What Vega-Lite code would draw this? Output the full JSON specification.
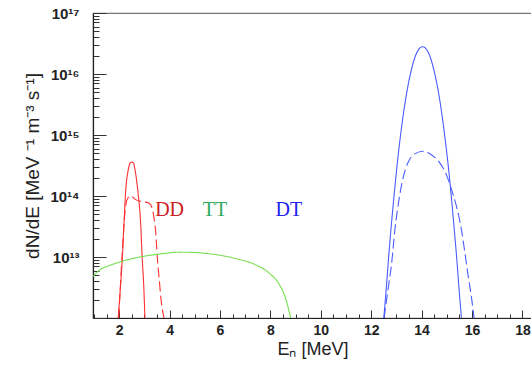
{
  "$schema": "https://vega.github.io/schema/vega-lite/v6.json",
  "width": 439,
  "height": 305,
  "autosize": "none",
  "padding": {"left": 93, "top": 13, "right": 0, "bottom": 48},
  "background": "white",
  "config": {
    "view": {"stroke": "#777", "strokeWidth": 1.2},
    "axis": {"grid": false, "labelFont": "Liberation Sans", "titleFont": "Liberation Sans", "labelColor": "#222", "titleColor": "#222", "domainColor": "#222", "tickColor": "#333"}
  },
  "resolve": {"scale": {"x": "independent", "y": "independent", "color": "independent"}, "axis": {"x": "independent", "y": "independent"}},
  "layer": [
    {
      "data": {"values": [
        {"r": "DD", "s": "solid", "x": 1.96, "y": 1.0e12},
        {"r": "DD", "s": "solid", "x": 2.03, "y": 2.5e12},
        {"r": "DD", "s": "solid", "x": 2.12, "y": 8.9e12},
        {"r": "DD", "s": "solid", "x": 2.19, "y": 3.6e13},
        {"r": "DD", "s": "solid", "x": 2.25, "y": 1.1e14},
        {"r": "DD", "s": "solid", "x": 2.36, "y": 2.7e14},
        {"r": "DD", "s": "solid", "x": 2.44, "y": 3.5e14},
        {"r": "DD", "s": "solid", "x": 2.50, "y": 3.6e14},
        {"r": "DD", "s": "solid", "x": 2.56, "y": 3.5e14},
        {"r": "DD", "s": "solid", "x": 2.64, "y": 2.5e14},
        {"r": "DD", "s": "solid", "x": 2.75, "y": 1.1e14},
        {"r": "DD", "s": "solid", "x": 2.85, "y": 3.6e13},
        {"r": "DD", "s": "solid", "x": 2.91, "y": 1.0e13},
        {"r": "DD", "s": "solid", "x": 2.98, "y": 2.9e12},
        {"r": "DD", "s": "solid", "x": 3.02, "y": 1.0e12},
        {"r": "DD", "s": "dashed", "x": 1.98, "y": 1.0e12},
        {"r": "DD", "s": "dashed", "x": 2.05, "y": 3.5e12},
        {"r": "DD", "s": "dashed", "x": 2.14, "y": 1.6e13},
        {"r": "DD", "s": "dashed", "x": 2.22, "y": 5.0e13},
        {"r": "DD", "s": "dashed", "x": 2.30, "y": 8.5e13},
        {"r": "DD", "s": "dashed", "x": 2.40, "y": 9.8e13},
        {"r": "DD", "s": "dashed", "x": 2.47, "y": 1.0e14},
        {"r": "DD", "s": "dashed", "x": 2.62, "y": 8.9e13},
        {"r": "DD", "s": "dashed", "x": 2.82, "y": 8.2e13},
        {"r": "DD", "s": "dashed", "x": 3.02, "y": 8.0e13},
        {"r": "DD", "s": "dashed", "x": 3.19, "y": 7.6e13},
        {"r": "DD", "s": "dashed", "x": 3.31, "y": 6.3e13},
        {"r": "DD", "s": "dashed", "x": 3.39, "y": 4.1e13},
        {"r": "DD", "s": "dashed", "x": 3.45, "y": 2.5e13},
        {"r": "DD", "s": "dashed", "x": 3.51, "y": 1.0e13},
        {"r": "DD", "s": "dashed", "x": 3.59, "y": 4.2e12},
        {"r": "DD", "s": "dashed", "x": 3.66, "y": 2.0e12},
        {"r": "DD", "s": "dashed", "x": 3.78, "y": 1.0e12},
        {"r": "TT", "s": "solid", "x": 0.96, "y": 4.8e12},
        {"r": "TT", "s": "solid", "x": 1.24, "y": 6.2e12},
        {"r": "TT", "s": "solid", "x": 1.60, "y": 7.2e12},
        {"r": "TT", "s": "solid", "x": 2.03, "y": 8.3e12},
        {"r": "TT", "s": "solid", "x": 2.82, "y": 1.0e13},
        {"r": "TT", "s": "solid", "x": 3.61, "y": 1.12e13},
        {"r": "TT", "s": "solid", "x": 4.40, "y": 1.2e13},
        {"r": "TT", "s": "solid", "x": 5.19, "y": 1.17e13},
        {"r": "TT", "s": "solid", "x": 5.98, "y": 1.07e13},
        {"r": "TT", "s": "solid", "x": 6.77, "y": 9.1e12},
        {"r": "TT", "s": "solid", "x": 7.43, "y": 7.4e12},
        {"r": "TT", "s": "solid", "x": 7.96, "y": 5.4e12},
        {"r": "TT", "s": "solid", "x": 8.36, "y": 3.5e12},
        {"r": "TT", "s": "solid", "x": 8.62, "y": 2.0e12},
        {"r": "TT", "s": "solid", "x": 8.72, "y": 1.4e12},
        {"r": "TT", "s": "solid", "x": 8.80, "y": 1.0e12},
        {"r": "DT", "s": "solid", "x": 12.50, "y": 1.0e12},
        {"r": "DT", "s": "solid", "x": 12.60, "y": 3.2e12},
        {"r": "DT", "s": "solid", "x": 12.70, "y": 1.1e13},
        {"r": "DT", "s": "solid", "x": 12.80, "y": 3.4e13},
        {"r": "DT", "s": "solid", "x": 12.90, "y": 9.5e13},
        {"r": "DT", "s": "solid", "x": 13.00, "y": 2.5e14},
        {"r": "DT", "s": "solid", "x": 13.20, "y": 1.3e15},
        {"r": "DT", "s": "solid", "x": 13.40, "y": 4.7e15},
        {"r": "DT", "s": "solid", "x": 13.60, "y": 1.2e16},
        {"r": "DT", "s": "solid", "x": 13.80, "y": 2.2e16},
        {"r": "DT", "s": "solid", "x": 14.04, "y": 2.8e16},
        {"r": "DT", "s": "solid", "x": 14.30, "y": 2.1e16},
        {"r": "DT", "s": "solid", "x": 14.50, "y": 1.1e16},
        {"r": "DT", "s": "solid", "x": 14.70, "y": 4.2e15},
        {"r": "DT", "s": "solid", "x": 14.90, "y": 1.1e15},
        {"r": "DT", "s": "solid", "x": 15.10, "y": 2.1e14},
        {"r": "DT", "s": "solid", "x": 15.20, "y": 7.8e13},
        {"r": "DT", "s": "solid", "x": 15.30, "y": 2.7e13},
        {"r": "DT", "s": "solid", "x": 15.40, "y": 8.7e12},
        {"r": "DT", "s": "solid", "x": 15.50, "y": 2.5e12},
        {"r": "DT", "s": "solid", "x": 15.58, "y": 1.0e12},
        {"r": "DT", "s": "dashed", "x": 12.51, "y": 1.0e12},
        {"r": "DT", "s": "dashed", "x": 12.68, "y": 3.2e12},
        {"r": "DT", "s": "dashed", "x": 12.81, "y": 7.9e12},
        {"r": "DT", "s": "dashed", "x": 12.94, "y": 2.8e13},
        {"r": "DT", "s": "dashed", "x": 13.08, "y": 7.6e13},
        {"r": "DT", "s": "dashed", "x": 13.28, "y": 2.1e14},
        {"r": "DT", "s": "dashed", "x": 13.47, "y": 3.6e14},
        {"r": "DT", "s": "dashed", "x": 13.73, "y": 4.9e14},
        {"r": "DT", "s": "dashed", "x": 14.06, "y": 5.4e14},
        {"r": "DT", "s": "dashed", "x": 14.40, "y": 4.7e14},
        {"r": "DT", "s": "dashed", "x": 14.72, "y": 3.5e14},
        {"r": "DT", "s": "dashed", "x": 14.99, "y": 2.2e14},
        {"r": "DT", "s": "dashed", "x": 15.19, "y": 1.26e14},
        {"r": "DT", "s": "dashed", "x": 15.39, "y": 6.6e13},
        {"r": "DT", "s": "dashed", "x": 15.58, "y": 2.8e13},
        {"r": "DT", "s": "dashed", "x": 15.72, "y": 1.15e13},
        {"r": "DT", "s": "dashed", "x": 15.85, "y": 4.8e12},
        {"r": "DT", "s": "dashed", "x": 15.99, "y": 2.0e12},
        {"r": "DT", "s": "dashed", "x": 16.08, "y": 1.0e12}
      ]},
      "mark": {"type": "line", "clip": true, "strokeWidth": 1.1, "interpolate": "monotone"},
      "encoding": {
        "x": {"field": "x", "type": "quantitative", "scale": {"domain": [0.96, 18.38], "nice": false, "zero": false},
          "axis": {"orient": "bottom", "values": [2, 4, 6, 8, 10, 12, 14, 16, 18], "ticks": false, "domain": true, "domainWidth": 1.2, "labelFlush": false, "labelFontSize": 14, "labelFontWeight": "bold", "labelPadding": 5, "title": "Eₙ [MeV]", "titleFontSize": 18, "titleFontWeight": "normal", "titlePadding": 3}},
        "y": {"field": "y", "type": "quantitative", "scale": {"type": "log", "domain": [1e12, 1e17], "nice": false},
          "axis": {"orient": "left", "values": [1e13, 1e14, 1e15, 1e16, 1e17], "labelExpr": "'10' + ['¹³','¹⁴','¹⁵','¹⁶','¹⁷'][round(log(datum.value)/LN10) - 13]", "ticks": false, "domain": true, "domainWidth": 1.2, "labelFontSize": 15, "labelFontWeight": "bold", "labelPadding": 14, "title": "dN/dE [MeV ⁻¹  m⁻³  s⁻¹]", "titleFontSize": 19, "titleFontWeight": "normal", "titlePadding": 7}},
        "color": {"field": "r", "type": "nominal", "scale": {"domain": ["DD", "TT", "DT"], "range": ["#ff3030", "#77e050", "#4a5cff"]}, "legend": null},
        "strokeDash": {"field": "s", "type": "nominal", "scale": {"domain": ["solid", "dashed"], "range": [[1, 0], [10, 4]]}, "legend": null}
      }
    },
    {
      "data": {"values": [
        {"label": "DD", "x": 4.0, "y": 6.0e13},
        {"label": "TT", "x": 5.8, "y": 6.0e13},
        {"label": "DT", "x": 8.73, "y": 6.0e13}
      ]},
      "mark": {"type": "text", "font": "Liberation Serif", "fontSize": 20, "align": "center", "baseline": "middle"},
      "encoding": {
        "x": {"field": "x", "type": "quantitative", "scale": {"domain": [0.96, 18.38], "nice": false, "zero": false}, "axis": null},
        "y": {"field": "y", "type": "quantitative", "scale": {"type": "log", "domain": [1e12, 1e17], "nice": false}, "axis": null},
        "text": {"field": "label"},
        "color": {"field": "label", "type": "nominal", "scale": {"domain": ["DD", "TT", "DT"], "range": ["#cc2020", "#33aa60", "#2222ee"]}, "legend": null}
      }
    },
    {
      "data": {"values": [{"x": 5, "y": 1e14}]},
      "mark": {"type": "point", "opacity": 0},
      "encoding": {
        "x": {"field": "x", "type": "quantitative", "scale": {"domain": [0.96, 18.38], "nice": false, "zero": false},
          "axis": {"orient": "bottom", "values": [2, 4, 6, 8, 10, 12, 14, 16, 18], "offset": -8, "tickSize": 8, "labels": false, "domain": false, "title": null}},
        "y": {"field": "y", "type": "quantitative", "scale": {"type": "log", "domain": [1e12, 1e17], "nice": false},
          "axis": {"orient": "left", "values": [1e12, 1e13, 1e14, 1e15, 1e16, 1e17], "offset": -13, "tickSize": 13, "labels": false, "domain": false, "title": null}}
      }
    },
    {
      "data": {"values": [{"x": 5, "y": 1e14}]},
      "mark": {"type": "point", "opacity": 0},
      "encoding": {
        "x": {"field": "x", "type": "quantitative", "scale": {"domain": [0.96, 18.38], "nice": false, "zero": false},
          "axis": {"orient": "bottom", "values": [1, 1.5, 2.5, 3, 3.5, 4.5, 5, 5.5, 6.5, 7, 7.5, 8.5, 9, 9.5, 10.5, 11, 11.5, 12.5, 13, 13.5, 14.5, 15, 15.5, 16.5, 17, 17.5, 18], "offset": -4, "tickSize": 4, "labels": false, "domain": false, "title": null}},
        "y": {"field": "y", "type": "quantitative", "scale": {"type": "log", "domain": [1e12, 1e17], "nice": false},
          "axis": {"orient": "left", "values": [2e12, 3e12, 4e12, 5e12, 6e12, 7e12, 8e12, 9e12, 2e13, 3e13, 4e13, 5e13, 6e13, 7e13, 8e13, 9e13, 2e14, 3e14, 4e14, 5e14, 6e14, 7e14, 8e14, 9e14, 2e15, 3e15, 4e15, 5e15, 6e15, 7e15, 8e15, 9e15, 2e16, 3e16, 4e16, 5e16, 6e16, 7e16, 8e16, 9e16], "offset": -6, "tickSize": 6, "labels": false, "domain": false, "title": null}}
      }
    }
  ]
}
